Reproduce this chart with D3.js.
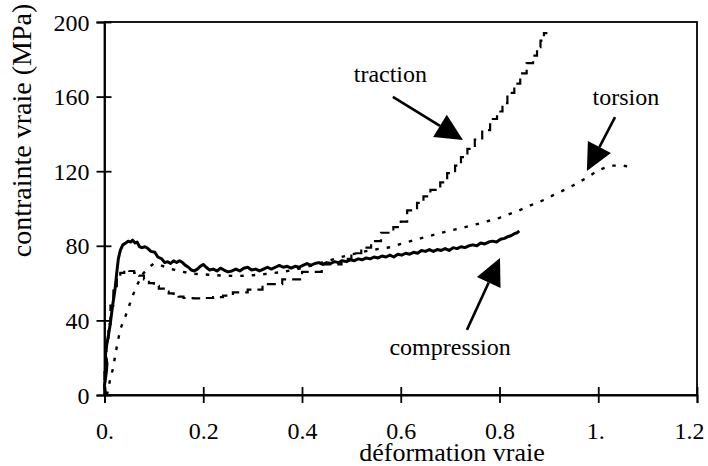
<!DOCTYPE html>
<html>
<head>
<meta charset="utf-8">
<script src="https://cdn.jsdelivr.net/npm/d3@7"></script>
<style>
  html, body { margin: 0; padding: 0; background: #fff; }
  svg { display: block; }
  text { font-family: "Liberation Serif", "Times New Roman", serif; fill: #000; }
</style>
</head>
<body>
<svg id="chart" width="708" height="466"></svg>
<script>
// Axis ticks
const xTicks = [0, 0.2, 0.4, 0.6, 0.8, 1.0, 1.2];
const xTickLabels = ["0.", "0.2", "0.4", "0.6", "0.8", "1.", "1.2"];
const yTicks = [0, 40, 80, 120, 160, 200];

// True stress (MPa) vs true strain, compression test
const compression = [
  [0, 0], [0.002, 1], [0.0, 5], [0.002, 9], [0.004, 13], [0.005, 17], [0.002, 21], [0.003, 25],
  [0.006, 29], [0.008, 32], [0.011, 37], [0.014, 43], [0.017, 49], [0.021, 56], [0.025, 66],
  [0.028, 73], [0.032, 77.5], [0.037, 80.5], [0.043, 81.5], [0.048, 82.5], [0.053, 82],
  [0.057, 83], [0.062, 81.5], [0.066, 82], [0.071, 79.5], [0.076, 79], [0.082, 79.5],
  [0.088, 78.5], [0.094, 77], [0.102, 76.5], [0.108, 74], [0.116, 73], [0.122, 71],
  [0.128, 71.5], [0.134, 70.5], [0.14, 72], [0.146, 71], [0.152, 72], [0.158, 71],
  [0.164, 69.5], [0.17, 68.5], [0.176, 67], [0.182, 66.5], [0.188, 67.5], [0.194, 69],
  [0.2, 70], [0.206, 68.5], [0.213, 67], [0.22, 67.5], [0.228, 66.5], [0.235, 68],
  [0.242, 67], [0.25, 66], [0.258, 66.5], [0.266, 67.5], [0.274, 66.5], [0.282, 68],
  [0.29, 68.5], [0.298, 67], [0.306, 67.5], [0.314, 66.5], [0.322, 67.5], [0.33, 68.5],
  [0.338, 67.5], [0.346, 68.5], [0.354, 69.5], [0.362, 68.5], [0.37, 69], [0.378, 68],
  [0.386, 69], [0.394, 68.5], [0.402, 69.5], [0.41, 70.5], [0.418, 69.5], [0.426, 70.5],
  [0.434, 71], [0.442, 70], [0.45, 71], [0.458, 70.5], [0.466, 71.5], [0.474, 71],
  [0.482, 72], [0.49, 71.5], [0.498, 72.5], [0.506, 72], [0.514, 73], [0.522, 72.5],
  [0.53, 73.5], [0.538, 73], [0.546, 74], [0.554, 73.5], [0.562, 74.5], [0.57, 74],
  [0.578, 75], [0.586, 74], [0.594, 75.5], [0.602, 75], [0.61, 76], [0.618, 75.5],
  [0.626, 76.5], [0.634, 76], [0.642, 77.5], [0.65, 77], [0.658, 78], [0.666, 77],
  [0.674, 78], [0.682, 77.5], [0.69, 78.5], [0.698, 77.5], [0.706, 79], [0.714, 78.5],
  [0.722, 79.5], [0.73, 79], [0.738, 80], [0.746, 80.5], [0.754, 80], [0.762, 81.5],
  [0.77, 81], [0.778, 82], [0.786, 82.5], [0.794, 82], [0.802, 83.5], [0.81, 84],
  [0.818, 85], [0.824, 85.5], [0.83, 86.5], [0.836, 87], [0.84, 88]
];

// Tension test
const traction = [
  [0, 0], [0.004, 15], [0.008, 28], [0.012, 38], [0.018, 48], [0.025, 56], [0.032, 62],
  [0.04, 65.5], [0.05, 67], [0.06, 66.5], [0.07, 65.5], [0.08, 64], [0.09, 62], [0.1, 60],
  [0.11, 58.5], [0.12, 57], [0.13, 55.5], [0.14, 54.5], [0.15, 53.5], [0.16, 52.8],
  [0.18, 52], [0.2, 51.8], [0.22, 52], [0.24, 52.5], [0.26, 53.3], [0.29, 55],
  [0.32, 56.5], [0.36, 59.5], [0.4, 62], [0.44, 66], [0.48, 70], [0.5, 73], [0.52, 76],
  [0.54, 79], [0.56, 82.5], [0.585, 87], [0.6, 90], [0.613, 93], [0.633, 99], [0.646, 103],
  [0.66, 106.5], [0.68, 110], [0.694, 114], [0.71, 119], [0.722, 123], [0.735, 127.5],
  [0.75, 132], [0.765, 137], [0.781, 142], [0.795, 148], [0.806, 152], [0.816, 156.5],
  [0.83, 162], [0.842, 167], [0.855, 172.5], [0.868, 178], [0.876, 182], [0.883, 186.5],
  [0.89, 190], [0.897, 194]
];

// Torsion test
const torsion = [
  [0.005, 0], [0.008, 4], [0.012, 9], [0.016, 13], [0.021, 20], [0.027, 29], [0.033, 36],
  [0.045, 44], [0.056, 52.5], [0.066, 59], [0.078, 65], [0.09, 68.5], [0.1, 70.5],
  [0.11, 70], [0.13, 68], [0.15, 66.5], [0.18, 65], [0.21, 64.5], [0.24, 64], [0.27, 63.8],
  [0.3, 64.2], [0.33, 65], [0.36, 66], [0.4, 68], [0.44, 71], [0.48, 74], [0.51, 76],
  [0.54, 77.7], [0.58, 79.3], [0.6, 81], [0.64, 84], [0.69, 87.5], [0.73, 90], [0.76, 92],
  [0.8, 95], [0.84, 99], [0.87, 102.5], [0.89, 104.6], [0.915, 108], [0.94, 111],
  [0.96, 114], [0.98, 117], [1.0, 120.5], [1.025, 123], [1.05, 123], [1.06, 122.5]
];

// Callouts: label position, arrow tail and arrow tip in data units
const callouts = [
  { label: "traction", tx: 0.579, ty: 167.8, from: [0.584, 159.8], to: [0.726, 136.7] },
  { label: "torsion", tx: 1.056, ty: 155.5, from: [1.034, 149], to: [0.977, 120.1] },
  { label: "compression", tx: 0.700, ty: 21.4, from: [0.734, 34.9], to: [0.801, 73.5] }
];

const svg = d3.select("#chart");
const x = d3.scaleLinear().domain([0, 1.2]).range([104.5, 697]);
const y = d3.scaleLinear().domain([0, 200]).range([395, 22]);
const serif = "'Liberation Serif', 'Times New Roman', serif";

// Frame
svg.append("rect")
  .attr("x", x(0)).attr("y", y(200))
  .attr("width", x(1.2) - x(0)).attr("height", y(0) - y(200))
  .attr("fill", "none").attr("stroke", "#000").attr("stroke-width", 1.8);

// Axes with ticks crossing the axis line
const xAxis = svg.append("g")
  .attr("transform", `translate(0,${y(0)})`)
  .call(d3.axisBottom(x).tickValues(xTicks).tickSize(8)
    .tickFormat((d, i) => xTickLabels[i]));
xAxis.select(".domain").attr("stroke-width", 1.8);
xAxis.selectAll(".tick line").attr("y1", -8).attr("y2", 8).attr("stroke-width", 1.8);
xAxis.selectAll(".tick text")
  .attr("y", 44).attr("dy", null)
  .attr("dx", d => d === 1.2 ? -8 : (d === 1.0 ? -3 : 0))
  .style("font-family", serif)
  .style("font-size", "24px");

const yAxis = svg.append("g")
  .attr("transform", `translate(${x(0)},0)`)
  .call(d3.axisLeft(y).tickValues(yTicks).tickSize(8));
yAxis.select(".domain").attr("stroke-width", 1.8);
yAxis.selectAll(".tick line").attr("x1", -8).attr("x2", 7).attr("stroke-width", 1.8);
yAxis.selectAll(".tick text")
  .attr("x", -15).attr("dy", "0.34em")
  .style("font-family", serif)
  .style("font-size", "24px");
svg.selectAll(".domain").attr("stroke", "#000");

// Axis titles
svg.append("text")
  .attr("x", 452).attr("y", 461)
  .attr("text-anchor", "middle")
  .style("font-size", "26px")
  .text("déformation vraie");

svg.append("text")
  .attr("transform", `translate(31,${(y(0) + y(200)) / 2 - 78}) rotate(-90)`)
  .attr("text-anchor", "middle")
  .style("font-size", "28px")
  .text("contrainte vraie (MPa)");

// Curves
const line = d3.line().x(d => x(d[0])).y(d => y(d[1]));

svg.append("path")
  .attr("d", line.curve(d3.curveStepBefore)(traction))
  .attr("fill", "none").attr("stroke", "#000")
  .attr("stroke-width", 2.2).attr("stroke-dasharray", "9,6");

svg.append("path")
  .attr("d", line.curve(d3.curveLinear)(torsion))
  .attr("fill", "none").attr("stroke", "#000")
  .attr("stroke-width", 2.4).attr("stroke-dasharray", "3.5,8");

svg.append("path")
  .attr("d", line.curve(d3.curveLinear)(compression))
  .attr("fill", "none").attr("stroke", "#000")
  .attr("stroke-width", 3).attr("stroke-linejoin", "round");

// Callout labels and arrows
const headLen = 27, headHalf = 13;
callouts.forEach(c => {
  svg.append("text")
    .attr("x", x(c.tx)).attr("y", y(c.ty))
    .attr("text-anchor", "middle")
    .style("font-size", "24px")
    .text(c.label);

  const x0 = x(c.from[0]), y0 = y(c.from[1]);
  const x1 = x(c.to[0]), y1 = y(c.to[1]);
  const len = Math.hypot(x1 - x0, y1 - y0);
  const ux = (x1 - x0) / len, uy = (y1 - y0) / len;
  const bx = x1 - ux * headLen, by = y1 - uy * headLen;
  svg.append("line")
    .attr("x1", x0).attr("y1", y0).attr("x2", bx).attr("y2", by)
    .attr("stroke", "#000").attr("stroke-width", 2.6);
  svg.append("polygon")
    .attr("points", [
      [x1, y1],
      [bx - uy * headHalf, by + ux * headHalf],
      [bx + uy * headHalf, by - ux * headHalf]
    ].map(p => p.join(",")).join(" "))
    .attr("fill", "#000");
});
</script>
</body>
</html>
